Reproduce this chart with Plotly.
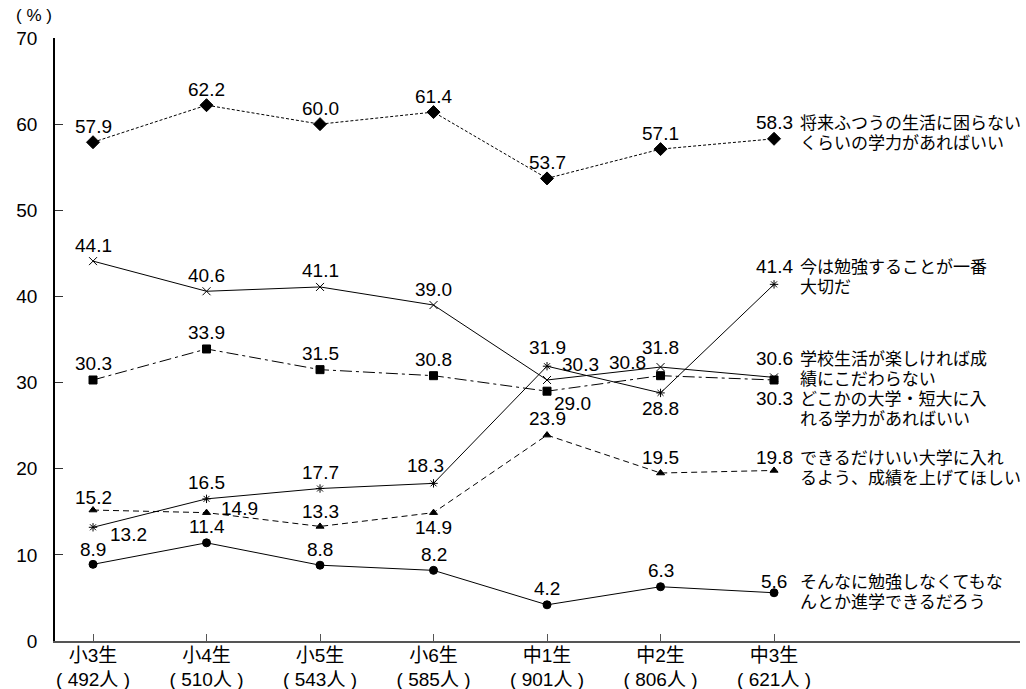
import plotly.graph_objects as go

categories = ["小3生", "小4生", "小5生", "小6生", "中1生", "中2生", "中3生"]
counts = ["492人", "510人", "543人", "585人", "901人", "806人", "621人"]

s_futsuu = [57.9, 62.2, 60.0, 61.4, 53.7, 57.1, 58.3]
s_tanoshii = [44.1, 40.6, 41.1, 39.0, 30.3, 31.8, 30.6]
s_ima = [13.2, 16.5, 17.7, 18.3, 31.9, 28.8, 41.4]
s_dokoka = [30.3, 33.9, 31.5, 30.8, 29.0, 30.8, 30.3]
s_dekirudake = [15.2, 14.9, 13.3, 14.9, 23.9, 19.5, 19.8]
s_sonnani = [8.9, 11.4, 8.8, 8.2, 4.2, 6.3, 5.6]

names = {
    "futsuu": ["将来ふつうの生活に困らない", "くらいの学力があればいい"],
    "ima": ["今は勉強することが一番", "大切だ"],
    "tanoshii": ["学校生活が楽しければ成", "績にこだわらない"],
    "dokoka": ["どこかの大学・短大に入", "れる学力があればいい"],
    "dekirudake": ["できるだけいい大学に入れ", "るよう、成績を上げてほしい"],
    "sonnani": ["そんなに勉強しなくてもな", "んとか進学できるだろう"],
}

FONT = "Liberation Sans, Arial, Noto Sans CJK JP"
A = 16
# styles: (values, key, marker symbol, marker size, dash, label offsets)
series = [
    (s_futsuu, "futsuu", "diamond", 10, "3px,2px",
     [(0, A)] * 7),
    (s_tanoshii, "tanoshii", "x-thin-open", 8, "solid",
     [(0, A), (0, A), (0, A), (0, A), (33, 15), (0, 20), (0, 19)]),
    (s_ima, "ima", "asterisk-open", 7, "solid",
     [(35, -7), (0, A), (0, A), (-8, 18), (0, 19), (0, -16), (0, 18)]),
    (s_dokoka, "dokoka", "square", 8, "12px,4px,3px,4px",
     [(0, A), (0, A), (0, A), (0, A), (25, -12), (-33, 13), (0, -19)]),
    (s_dekirudake, "dekirudake", "triangle-up", 7, "6px,4px",
     [(0, 13), (33, 4), (0, 15), (0, -15), (0, 17), (0, A), (0, 13)]),
    (s_sonnani, "sonnani", "circle", 8, "solid",
     [(0, 15), (0, A), (0, A), (0, A), (0, A), (0, A), (0, 11)]),
]

xs = list(range(len(categories)))
fig = go.Figure()
annotations = []
for vals, key, sym, msize, dash, offs in series:
    fig.add_trace(go.Scatter(
        x=xs, y=vals, mode="lines+markers",
        line=dict(color="black", width=1, dash=dash),
        marker=dict(symbol=sym, size=msize, color="black",
                    line=dict(color="black", width=1)),
        showlegend=False, hoverinfo="skip",
    ))
    for i, v in enumerate(vals):
        dx, dy = offs[i]
        annotations.append(dict(
            x=xs[i], y=v, xref="x", yref="y", text=f"{v:.1f}", showarrow=False,
            xshift=dx, yshift=dy, font=dict(size=19, color="black", family=FONT),
        ))
    dx, dy = offs[-1]
    for j, line in enumerate(names[key]):
        annotations.append(dict(
            x=xs[-1], y=vals[-1], xref="x", yref="y", text=line, showarrow=False,
            xanchor="left", xshift=24, yshift=dy - 1 - 20 * j,
            font=dict(size=17, color="black", family=FONT),
        ))

annotations.append(dict(
    x=0, y=1, xref="paper", yref="paper", text="( % )", showarrow=False,
    xanchor="right", yanchor="bottom", xshift=-1, yshift=11,
    font=dict(size=17, color="black", family=FONT),
))

ticktext = [f"{c}<br>( {n} )" for c, n in zip(categories, counts)]

fig.update_layout(
    width=1026, height=689,
    margin=dict(l=55, r=6, t=38, b=48),
    paper_bgcolor="white", plot_bgcolor="white",
    font=dict(family=FONT, size=19, color="black"),
    annotations=annotations,
    xaxis=dict(
        range=[-0.335, 8.167], tickvals=xs, ticktext=ticktext,
        showgrid=False, zeroline=False, showline=True, linecolor="#555",
        linewidth=1.5, ticks="inside", ticklen=7, tickcolor="#555",
        tickfont=dict(size=19, family=FONT), automargin=False,
        ticklabelstandoff=-4,
    ),
    yaxis=dict(
        range=[0, 70], tickvals=[0, 10, 20, 30, 40, 50, 60, 70],
        showgrid=False, zeroline=False, showline=True, linecolor="black",
        linewidth=1.5, ticks="inside", ticklen=8, tickcolor="#333",
        tickfont=dict(size=19, family=FONT), ticklabelstandoff=12,
        automargin=False,
    ),
)

fig.write_html("out.html")
